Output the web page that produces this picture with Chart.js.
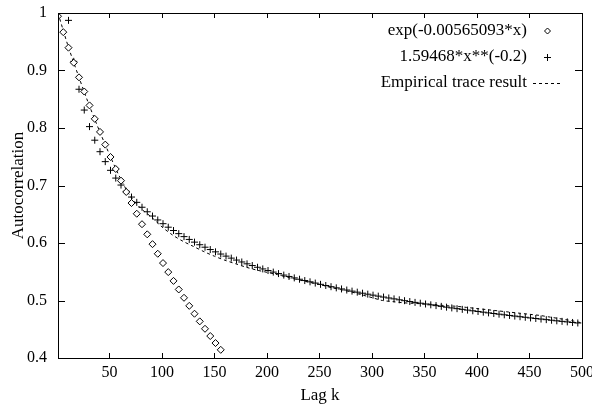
<!DOCTYPE html>
<html>
<head>
<meta charset="utf-8">
<script src="https://cdn.jsdelivr.net/npm/chart.js@4/dist/chart.umd.min.js"></script>
<style>
  body { margin: 0; background: #fff; }
  #wrap { width: 592px; height: 408px; }
</style>
</head>
<body>
<div id="wrap"><canvas id="myChart" width="592" height="408"></canvas></div>
<script>
// exp(-0.00565093*x), lags 1, 6, 11 ... 156
const expLags = [1, 6, 11, 16, 21, 26, 31, 36, 41, 46, 51, 56, 61, 66, 71, 76,
  81, 86, 91, 96, 101, 106, 111, 116, 121, 126, 131, 136, 141, 146, 151, 156];
const expValues = [0.9944, 0.9667, 0.9397, 0.9136, 0.8881, 0.8634, 0.8393, 0.8159,
  0.7932, 0.7711, 0.7496, 0.7287, 0.7084, 0.6887, 0.6695, 0.6509,
  0.6327, 0.6151, 0.5980, 0.5813, 0.5651, 0.5494, 0.5341, 0.5192,
  0.5047, 0.4907, 0.4770, 0.4637, 0.4508, 0.4382, 0.4260, 0.4142];

// 1.59468*x**(-0.2), lags 11, 16 ... 496
const powLags = [11, 16, 21, 26, 31, 36, 41, 46, 51, 56, 61, 66, 71, 76, 81, 86,
  91, 96, 101, 106, 111, 116, 121, 126, 131, 136, 141, 146, 151, 156, 161, 166,
  171, 176, 181, 186, 191, 196, 201, 206, 211, 216, 221, 226, 231, 236, 241, 246,
  251, 256, 261, 266, 271, 276, 281, 286, 291, 296, 301, 306, 311, 316, 321, 326,
  331, 336, 341, 346, 351, 356, 361, 366, 371, 376, 381, 386, 391, 396, 401, 406,
  411, 416, 421, 426, 431, 436, 441, 446, 451, 456, 461, 466, 471, 476, 481, 486,
  491, 496];
const powValues = [0.9872, 0.9159, 0.8674, 0.8312, 0.8024, 0.7788, 0.7588, 0.7415,
  0.7264, 0.7129, 0.7008, 0.6899, 0.6799, 0.6707, 0.6622, 0.6543,
  0.6469, 0.6401, 0.6336, 0.6275, 0.6217, 0.6163, 0.6111, 0.6062,
  0.6015, 0.5970, 0.5927, 0.5886, 0.5846, 0.5808, 0.5772, 0.5737,
  0.5703, 0.5670, 0.5638, 0.5608, 0.5578, 0.5549, 0.5521, 0.5494,
  0.5468, 0.5442, 0.5418, 0.5393, 0.5370, 0.5347, 0.5325, 0.5303,
  0.5281, 0.5261, 0.5240, 0.5220, 0.5201, 0.5182, 0.5163, 0.5145,
  0.5127, 0.5110, 0.5093, 0.5076, 0.5060, 0.5044, 0.5028, 0.5012,
  0.4997, 0.4982, 0.4967, 0.4953, 0.4939, 0.4925, 0.4911, 0.4898,
  0.4884, 0.4871, 0.4858, 0.4846, 0.4833, 0.4821, 0.4809, 0.4797,
  0.4785, 0.4774, 0.4762, 0.4751, 0.4740, 0.4729, 0.4718, 0.4708,
  0.4697, 0.4687, 0.4677, 0.4667, 0.4657, 0.4647, 0.4637, 0.4628,
  0.4618, 0.4609];

// empirical trace
const empLags = [1, 10, 20, 30, 40, 50, 60, 70, 80, 90, 100, 110, 120, 130, 140,
  150, 160, 170, 180, 190, 200, 210, 220, 230, 240, 250, 260, 270, 280, 290, 300,
  310, 320, 330, 340, 350, 360, 370, 380, 390, 400, 410, 420, 430, 440, 450, 460,
  470, 480, 490, 500];
const empValues = [1.0, 0.946, 0.893, 0.843, 0.797, 0.754, 0.714, 0.681, 0.660,
  0.645, 0.628, 0.614, 0.603, 0.594, 0.585, 0.577, 0.570, 0.564, 0.558, 0.553,
  0.549, 0.545, 0.540, 0.536, 0.532, 0.528, 0.523, 0.519, 0.515, 0.510, 0.505,
  0.500, 0.498, 0.496, 0.495, 0.494, 0.493, 0.491, 0.490, 0.488, 0.486, 0.484,
  0.482, 0.480, 0.478, 0.476, 0.474, 0.471, 0.468, 0.465, 0.461];

const seriesLabels = ["exp(-0.00565093*x)", "1.59468*x**(-0.2)", "Empirical trace result"];
const xTicks = [50, 100, 150, 200, 250, 300, 350, 400, 450, 500];
const yTicks = [0.4, 0.5, 0.6, 0.7, 0.8, 0.9, 1];
const yTickLabels = ["0.4", "0.5", "0.6", "0.7", "0.8", "0.9", "1"];

function pairs(xs, ys) {
  return xs.map(function(x, i) { return { x: x, y: ys[i] }; });
}

const FONT = "'Liberation Serif', 'Times New Roman', serif";
Chart.defaults.color = '#000';
Chart.defaults.font.family = FONT;

// gnuplot style frame, inward ticks on all four sides and key in the corner
const gnuplotFrame = {
  id: 'gnuplotFrame',
  afterDraw(chart) {
    const ctx = chart.ctx;
    const a = chart.chartArea;
    const xs = chart.scales.x, ys = chart.scales.y;
    ctx.save();
    ctx.strokeStyle = '#000';
    ctx.lineWidth = 1;
    ctx.strokeRect(Math.round(a.left) + 0.5, Math.round(a.top) + 0.5,
      Math.round(a.right - a.left), Math.round(a.bottom - a.top));
    ctx.beginPath();
    xTicks.forEach(function(v) {
      const px = Math.round(xs.getPixelForValue(v)) + 0.5;
      ctx.moveTo(px, a.bottom); ctx.lineTo(px, a.bottom - 5);
      ctx.moveTo(px, a.top); ctx.lineTo(px, a.top + 5);
    });
    yTicks.forEach(function(v) {
      const py = Math.round(ys.getPixelForValue(v)) + 0.5;
      ctx.moveTo(a.left, py); ctx.lineTo(a.left + 7, py);
      ctx.moveTo(a.right, py); ctx.lineTo(a.right - 7, py);
    });
    ctx.stroke();

    // key
    ctx.font = '17px ' + FONT;
    ctx.textAlign = 'right';
    ctx.textBaseline = 'middle';
    ctx.fillStyle = '#000';
    const textRight = 527, symX = 547;
    const rows = [31, 57, 83];
    ctx.fillText(seriesLabels[0], textRight, rows[0]);
    ctx.fillText(seriesLabels[1], textRight, rows[1]);
    ctx.fillText(seriesLabels[2], textRight, rows[2]);
    ctx.fillStyle = '#fff';
    ctx.beginPath();
    ctx.moveTo(symX + 0.5, rows[0] - 3); ctx.lineTo(symX + 3.5, rows[0]);
    ctx.lineTo(symX + 0.5, rows[0] + 3); ctx.lineTo(symX - 2.5, rows[0]); ctx.closePath();
    ctx.fill(); ctx.stroke();
    ctx.beginPath();
    ctx.moveTo(symX - 3, rows[1] + 0.5); ctx.lineTo(symX + 4, rows[1] + 0.5);
    ctx.moveTo(symX + 0.5, rows[1] - 3); ctx.lineTo(symX + 0.5, rows[1] + 4);
    ctx.stroke();
    ctx.setLineDash([3, 3]);
    ctx.beginPath();
    ctx.moveTo(533, rows[2] + 0.5); ctx.lineTo(561, rows[2] + 0.5);
    ctx.stroke();
    ctx.restore();
  }
};

new Chart("myChart", {
  type: "scatter",
  data: {
    datasets: [{
      label: seriesLabels[0],
      data: pairs(expLags, expValues),
      pointStyle: 'rectRot',
      pointRadius: 3.5,
      borderColor: '#000',
      backgroundColor: '#fff',
      borderWidth: 1,
      showLine: false
    }, {
      label: seriesLabels[1],
      data: pairs(powLags, powValues),
      pointStyle: 'cross',
      pointRadius: 3.5,
      borderColor: '#000',
      borderWidth: 1,
      showLine: false
    }, {
      label: seriesLabels[2],
      data: pairs(empLags, empValues),
      showLine: true,
      pointRadius: 0,
      borderColor: '#000',
      borderWidth: 1,
      borderDash: [3, 3],
      tension: 0.3
    }]
  },
  options: {
    responsive: false,
    animation: false,
    layout: { padding: { top: 13, right: 10, left: 0, bottom: 0 } },
    plugins: {
      legend: { display: false },
      tooltip: { enabled: false }
    },
    scales: {
      x: {
        type: 'linear',
        min: 1,
        max: 500,
        afterBuildTicks: function(scale) {
          scale.ticks = xTicks.map(function(v) { return { value: v }; });
        },
        afterFit: function(scale) {
          scale.height = 50;
          scale.paddingLeft = 0;
          scale.paddingRight = 0;
        },
        grid: { display: false, drawTicks: false },
        border: { display: false },
        ticks: { font: { size: 16 }, padding: 5, maxRotation: 0 },
        title: { display: true, text: 'Lag k', font: { size: 17 }, padding: { top: 0, bottom: 2 } }
      },
      y: {
        type: 'linear',
        min: 0.4,
        max: 1,
        afterBuildTicks: function(scale) {
          scale.ticks = yTicks.map(function(v) { return { value: v }; });
        },
        afterFit: function(scale) {
          scale.width = 58;
          scale.paddingTop = 0;
          scale.paddingBottom = 0;
        },
        grid: { display: false, drawTicks: false },
        border: { display: false },
        ticks: {
          font: { size: 16 },
          padding: 11,
          callback: function(value, index) { return yTickLabels[index]; }
        },
        title: { display: true, text: 'Autocorrelation', font: { size: 17 }, padding: { top: 8, bottom: 0 } }
      }
    }
  },
  plugins: [gnuplotFrame]
});
</script>
</body>
</html>
